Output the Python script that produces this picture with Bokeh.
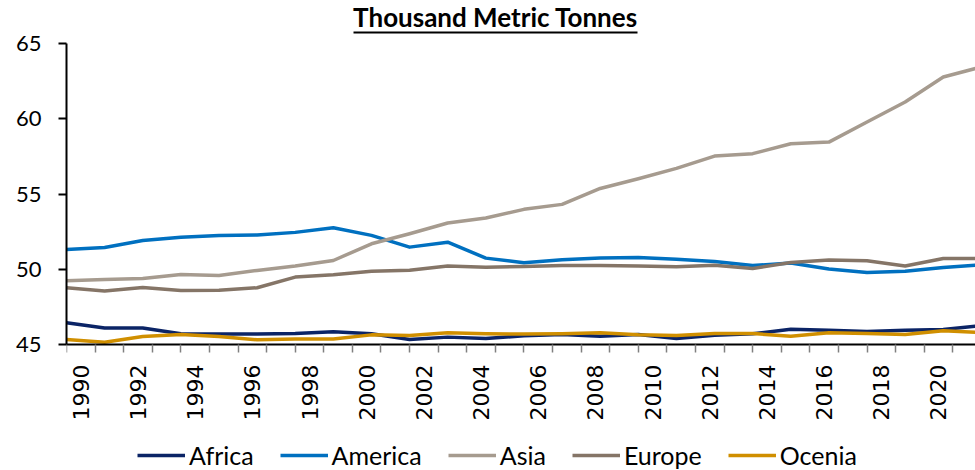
from bokeh.plotting import figure
from bokeh.models import (Range1d, FixedTicker, LinearAxis, Legend, LegendItem,
                          Label, Arrow, ColumnDataSource)
from bokeh.embed import file_html
from bokeh.resources import INLINE

# Category axis: one slot per year
years = list(range(1990, 2022))
year_labels = [y for y in years if y % 2 == 0 and y <= 2020]
y_ticks = [45, 50, 55, 60, 65]

# Series samples, evenly spread across the plot width (thousand metric tonnes)
africa = [46.44, 46.09, 46.09, 45.71, 45.69, 45.69, 45.73, 45.84, 45.71, 45.33,
          45.49, 45.40, 45.58, 45.66, 45.55, 45.66, 45.40, 45.62, 45.71, 46.02,
          45.95, 45.86, 45.95, 46.00, 46.25]
america = [51.32, 51.45, 51.91, 52.13, 52.25, 52.27, 52.45, 52.76, 52.25, 51.47,
           51.80, 50.74, 50.43, 50.63, 50.74, 50.78, 50.67, 50.52, 50.25, 50.41,
           50.01, 49.79, 49.87, 50.12, 50.30]
asia = [49.23, 49.32, 49.39, 49.65, 49.59, 49.92, 50.21, 50.58, 51.69, 52.36,
        53.07, 53.40, 53.98, 54.31, 55.37, 56.01, 56.70, 57.52, 57.68, 58.34,
        58.45, 59.78, 61.11, 62.77, 63.44]
europe = [48.77, 48.55, 48.79, 48.59, 48.61, 48.77, 49.48, 49.63, 49.87, 49.94,
          50.21, 50.14, 50.19, 50.25, 50.25, 50.21, 50.16, 50.27, 50.05, 50.45,
          50.61, 50.56, 50.21, 50.72, 50.72]
ocenia = [45.33, 45.15, 45.53, 45.66, 45.53, 45.31, 45.36, 45.36, 45.64, 45.60,
          45.78, 45.71, 45.69, 45.71, 45.78, 45.64, 45.60, 45.73, 45.73, 45.55,
          45.78, 45.73, 45.66, 45.91, 45.80]

series_names = ["Africa", "America", "Asia", "Europe", "Ocenia"]
series_values = [africa, america, asia, europe, ocenia]
series_colors = ["#0B2466", "#0070C0", "#A69B8F", "#857567", "#D08F00"]

W, H = 975, 470
LEFT = 66
AX_TOP, AX_BOTTOM = 43, 344          # pixel rows of the 65 and 45 gridlines
frame_w = W - LEFT
ppu = (AX_BOTTOM - AX_TOP) / (y_ticks[-1] - y_ticks[0])   # pixels per tonne
slot_px = 28.59                      # width of one year slot
full_w = slot_px * len(years)        # full category span (runs past the page edge)

x_start = years[0] - 0.5
x_end = x_start + frame_w / slot_px
y_start = y_ticks[0] - (H - AX_BOTTOM) / ppu
y_end = y_ticks[-1] + AX_TOP / ppu
n_pts = len(africa)
pts_end = (n_pts - 1) * frame_w / full_w

p = figure(width=W, height=H, output_backend="svg", toolbar_location=None,
           x_range=Range1d(x_start, x_end), y_range=Range1d(y_start, y_end),
           min_border_left=LEFT, min_border_right=0, min_border_top=0,
           min_border_bottom=0, x_axis_location=None, y_axis_location=None,
           outline_line_color=None, background_fill_color="white",
           border_fill_color="white")
p.title = None
p.extra_x_ranges = {"pts": Range1d(0, pts_end)}
p.xgrid.visible = False
p.ygrid.visible = False

# Y axis
yax = LinearAxis(ticker=FixedTicker(ticks=y_ticks, minor_ticks=[]),
                 bounds=(y_ticks[0], y_ticks[-1]))
yax.axis_line_color = "black"
yax.axis_line_width = 2
yax.major_tick_out = 8
yax.major_tick_in = 0
yax.major_tick_line_width = 2
yax.major_tick_line_color = "black"
yax.minor_tick_line_color = None
yax.major_label_standoff = 17
yax.major_label_text_font = "Lato"
yax.major_label_text_font_size = "22px"
yax.major_label_text_color = "black"
p.add_layout(yax, "left")

# X axis: boundaries between years as ticks, labels on every second year
xax = LinearAxis(ticker=FixedTicker(ticks=year_labels,
                                    minor_ticks=[y - 0.5 for y in years]),
                 fixed_location=y_ticks[0])
xax.axis_line_color = "black"
xax.axis_line_width = 2
xax.major_tick_line_color = None
xax.major_tick_out = 0
xax.major_tick_in = 0
xax.minor_tick_line_color = "#808080"
xax.minor_tick_line_width = 1.5
xax.minor_tick_out = 8
xax.minor_tick_in = 0
xax.major_label_orientation = 1.5707963
xax.major_label_standoff = 12
xax.major_label_text_font = "DejaVu Sans"
xax.major_label_text_font_size = "22px"
xax.major_label_text_color = "black"
p.add_layout(xax, "below")

idx = list(range(n_pts))
items = []
for name, vals, color in zip(series_names, series_values, series_colors):
    src = ColumnDataSource(dict(i=idx, v=vals))
    r = p.line("i", "v", source=src, x_range_name="pts", line_color=color,
               line_width=3.5, line_join="round")
    items.append(LegendItem(label=name, renderers=[r]))

legend = Legend(items=items, orientation="horizontal", location=(71, 0),
                glyph_width=48, glyph_height=20, label_standoff=4, spacing=26,
                padding=0, margin=0, border_line_color=None,
                background_fill_alpha=0, label_text_font="Lato",
                label_text_font_size="25px", label_text_color="black")
p.add_layout(legend)


def px_x(px):
    return x_start + (px - LEFT) / slot_px


def px_y(py):
    return y_start + (H - py) / ppu


title = Label(x=px_x(495), y=px_y(16), text="Thousand Metric Tonnes",
              text_align="center", text_baseline="alphabetic",
              text_font="Lato", text_font_style="bold",
              text_font_size="26px", text_color="black")
p.add_layout(title)
p.add_layout(Arrow(start=None, end=None, x_start=px_x(353), y_start=px_y(32),
                   x_end=px_x(637), y_end=px_y(32), line_color="black",
                   line_width=2))

open("out.html", "w").write(file_html(p, INLINE))
